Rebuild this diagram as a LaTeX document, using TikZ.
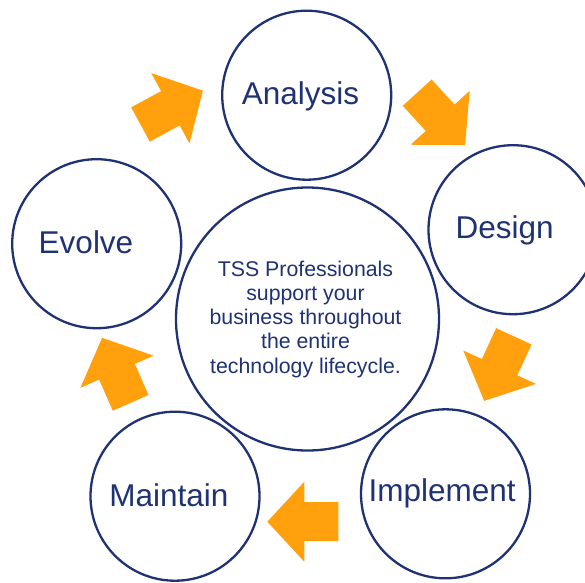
\documentclass[tikz,border=0pt]{standalone}
\usepackage{fontspec}
\setmainfont{Liberation Sans}
\definecolor{navy}{RGB}{31,50,115}
\definecolor{arroworange}{RGB}{255,160,12}
\newcommand{\blockarrow}[3]{\fill[arrowshape, shift={(#1,#2)}, rotate=#3] (0,-19.5) -- (34,-19.5) -- (34,-40) -- (71,0) -- (34,40) -- (34,19.5) -- (0,19.5) -- cycle;}
\begin{document}
\begin{tikzpicture}[x=1pt,y=-1pt,
  stage/.style={circle, draw=navy, line width=2.3pt, minimum size=169pt, inner sep=0pt},
  hub/.style={circle, draw=navy, line width=2.3pt, minimum size=263pt, inner sep=0pt},
  stagelabel/.style={anchor=base, inner sep=0pt, text=navy, font=\fontsize{31.5}{36}\selectfont},
  hublabel/.style={anchor=base, inner sep=0pt, text=navy, align=center, font=\fontsize{21.3}{24.3}\selectfont},
  arrowshape/.style={fill=arroworange}]
\useasboundingbox (0,0) rectangle (585,582);
\fill[white] (0,0) rectangle (585,582);
% circles
\node[hub]   (hub)       at (307.5,319) {};
\node[stage] (analysis)  at (306.7,95.2) {};
\node[stage] (design)    at (513,229.7) {};
\node[stage] (implement) at (445.5,493.8) {};
\node[stage] (maintain)  at (175,496.2) {};
\node[stage] (evolve)    at (96.7,243.7) {};
% labels
\node[stagelabel] (tanalysis)  at (300.5,104)   {Analysis};
\node[stagelabel] (tdesign)    at (504.7,238.3) {Design};
\node[stagelabel] (timplement) at (442.2,501.7) {Implement};
\node[stagelabel] (tmaintain)  at (168.8,506.7) {Maintain};
\node[stagelabel] (tevolve)    at (86,253.3)    {Evolve};
\node[hublabel] (thub) at (305.5,373.2) {TSS Professionals\\support your\\business throughout\\the entire\\technology lifecycle.};
% block arrows
\blockarrow{140.5}{124.5}{28.5}
\blockarrow{417.2}{92.65}{-47.6}
\blockarrow{513.8}{336.3}{-114.7}
\blockarrow{338.3}{521.7}{180}
\blockarrow{130.65}{402.85}{113.7}
\end{tikzpicture}
\end{document}
